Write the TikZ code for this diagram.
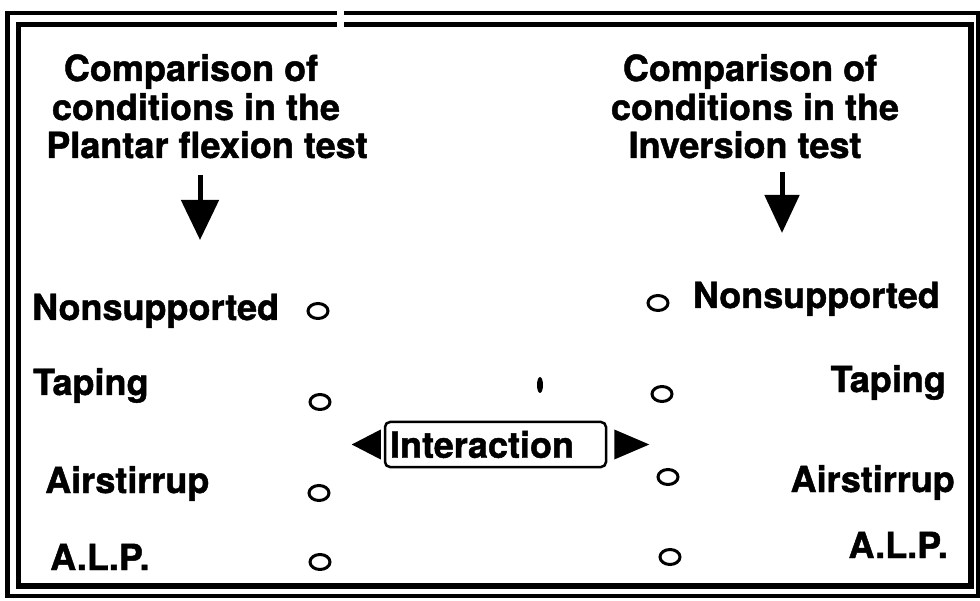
\documentclass[tikz,border=0pt]{standalone}
\usepackage{fontspec}
\setmainfont{TeX Gyre Heros}[BoldFeatures={FakeBold=1.3}]
\usetikzlibrary{arrows.meta,shapes.geometric}
\begin{document}
\begin{tikzpicture}[x=1pt,y=-1pt,
  lbl/.style={font=\bfseries\fontsize{36}{39}\selectfont, inner sep=0pt},
  ring/.style={draw, ellipse, line width=3pt, minimum width=20pt, minimum height=15pt, inner sep=0pt},
  downarrow/.style={line width=5pt, -{Triangle[width=37pt,length=40pt]}},
  headfill/.style={fill=black}]
\useasboundingbox (0,0) rectangle (980,601);
% double frame
\draw[line width=4.5pt] (7.5,13) rectangle (978,596);
\draw[line width=5.5pt] (18.5,24.5) rectangle (971,586);
\fill[white] (337,9) rectangle (344,30);
% left title
\node[lbl, anchor=base] (tl1) at (191,81) {Comparison of};
\node[lbl, anchor=base] (tl2) at (196,120) {conditions in the};
\node[lbl, anchor=base] (tl3) at (207,158) {Plantar flexion test};
% right title
\node[lbl, anchor=base] (tr1) at (750,81) {Comparison of};
\node[lbl, anchor=base] (tr2) at (755,120) {conditions in the};
\node[lbl, anchor=base] (tr3) at (745,158) {Inversion test};
% arrows
\coordinate (la1) at (200,175);
\coordinate (la2) at (200,240);
\coordinate (ra1) at (782,172);
\coordinate (ra2) at (782,233);
\draw[downarrow] (la1) -- (la2);
\draw[line width=5pt, -{Triangle[width=34pt,length=38pt]}] (ra1) -- (ra2);
% left column labels
\node[lbl, anchor=base west] (ln) at (32,320) {Nonsupported};
\node[lbl, anchor=base west] (lt) at (33,395) {Taping};
\node[lbl, anchor=base west] (la) at (45,493) {Airstirrup};
\node[lbl, anchor=base west] (lp) at (50,570) {A.L.P.};
% right column labels
\node[lbl, anchor=base east] (rn) at (940,308) {Nonsupported};
\node[lbl, anchor=base east] (rt) at (946,392) {Taping};
\node[lbl, anchor=base east] (ra) at (955,492) {Airstirrup};
\node[lbl, anchor=base east] (rp) at (948,558) {A.L.P.};
% rings
\node[ring] (c1) at (318,311) {};
\node[ring] (c2) at (320,402) {};
\node[ring] (c3) at (319,493) {};
\node[ring] (c4) at (320,562) {};
\node[ring] (d1) at (658,303) {};
\node[ring] (d2) at (662,394) {};
\node[ring] (d3) at (668,477) {};
\node[ring] (d4) at (670,557) {};
% tick mark
\fill (540,385) ellipse (3pt and 8pt);
% interaction box
\node[lbl, draw, line width=2.5pt, rounded corners=5pt, text width=211pt, align=left,
      inner xsep=5pt, minimum height=45pt, anchor=center] (ix) at (495.5,444.5) {Interaction};
\fill[headfill] ([xshift=-3pt]ix.west) ++(0,-15) -- ++(0,30) -- ++(-29,-15) -- cycle;
\fill[headfill] ([xshift=7pt]ix.east) ++(0,-15) -- ++(0,30) -- ++(35,-15) -- cycle;
\end{tikzpicture}
\end{document}
